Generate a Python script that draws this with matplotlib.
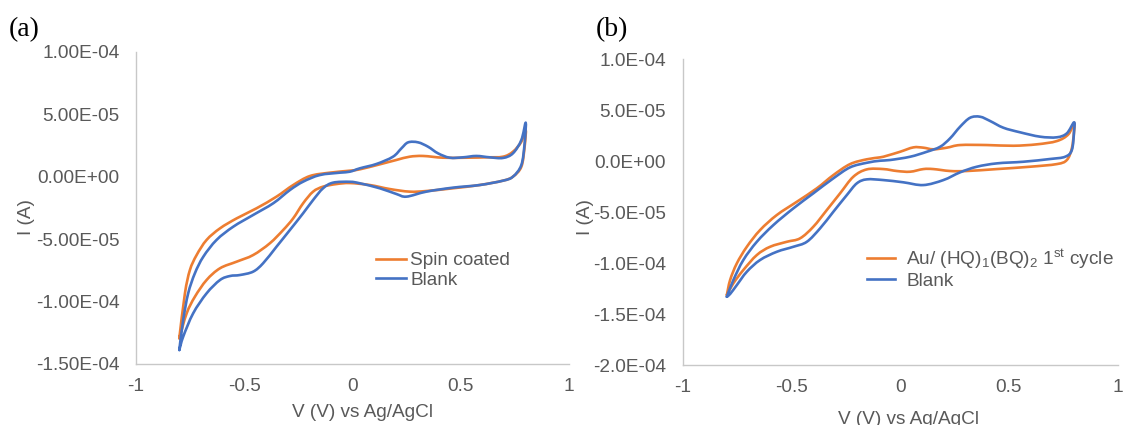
import numpy as np
import matplotlib
matplotlib.use("Agg")
import matplotlib.pyplot as plt
from matplotlib.path import Path
from matplotlib.patches import PathPatch
from matplotlib.lines import Line2D
from matplotlib.ticker import FuncFormatter, MultipleLocator

plt.rcParams['font.family'] = ['Liberation Sans', 'DejaVu Sans']
plt.rcParams['mathtext.fontset'] = 'custom'
plt.rcParams['mathtext.rm'] = 'Liberation Sans'
plt.rcParams['mathtext.it'] = 'Liberation Sans'

# ---- panel (a): potential (V) and current (uA), loop starts at -0.8 V ----
a_spin_v = [-0.800, -0.774, -0.751, -0.720, -0.674, -0.612, -0.535, -0.443, -0.351, -0.274,
            -0.197, -0.105, -0.012, 0.034, 0.126, 0.203, 0.264, 0.326, 0.418, 0.526,
            0.618, 0.695, 0.741, 0.780, 0.800,
            0.795, 0.780, 0.741, 0.695, 0.587, 0.464, 0.341, 0.264, 0.172, 0.080,
            -0.012, -0.074, -0.136, -0.182, -0.228, -0.274, -0.320, -0.382, -0.459, -0.535,
            -0.612, -0.674, -0.728, -0.766, -0.800]
a_spin_i = [-129.4, -93.4, -74.7, -62.7, -50.6, -41.3, -33.3, -25.2, -15.9, -6.6,
            0.6, 3.3, 4.9, 6.0, 10.0, 13.5, 16.1, 16.7, 15.3, 15.3,
            15.6, 16.1, 20.1, 28.1, 37.5,
            24.1, 8.1, 0.1, -3.1, -6.6, -9.2, -11.4, -11.9, -9.8, -6.6,
            -5.0, -5.8, -7.9, -11.9, -21.2, -33.3, -42.6, -53.3, -62.7, -68.0,
            -73.3, -82.7, -96.1, -109.4, -129.4]

a_blank_v = [-0.800, -0.782, -0.759, -0.728, -0.689, -0.628, -0.551, -0.459, -0.366, -0.289,
             -0.228, -0.151, -0.059, -0.012, 0.034, 0.111, 0.187, 0.226, 0.257, 0.303,
             0.349, 0.395, 0.449, 0.510, 0.572, 0.634, 0.695, 0.741, 0.780, 0.800,
             0.795, 0.780, 0.741, 0.695, 0.587, 0.464, 0.341, 0.249, 0.203, 0.126,
             0.034, -0.012, -0.090, -0.136, -0.182, -0.228, -0.289, -0.351, -0.413, -0.459,
             -0.520, -0.566, -0.612, -0.674, -0.736, -0.782, -0.800]
a_blank_i = [-138.8, -114.7, -93.4, -77.3, -64.0, -50.6, -40.0, -30.6, -21.2, -10.6,
             -3.9, 1.4, 3.3, 4.1, 6.8, 10.3, 16.1, 22.8, 27.6, 27.6,
             24.1, 18.8, 15.3, 15.6, 16.7, 15.6, 15.1, 18.8, 29.5, 43.4,
             26.8, 9.5, 0.1, -3.1, -6.6, -8.7, -11.9, -15.9, -13.8, -9.2,
             -5.2, -4.0, -4.7, -9.2, -18.6, -29.2, -42.6, -56.0, -69.3, -76.0,
             -78.7, -79.5, -82.7, -93.4, -109.4, -128.1, -138.8]

# ---- panel (b) ----
b_film_v = [-0.797, -0.782, -0.751, -0.705, -0.644, -0.567, -0.475, -0.383, -0.307, -0.230,
            -0.153, -0.092, -0.061, 0.000, 0.061, 0.107, 0.153, 0.215, 0.276, 0.399,
            0.521, 0.629, 0.721, 0.774, 0.800,
            0.800, 0.790, 0.767, 0.721, 0.598, 0.445, 0.307, 0.230, 0.153, 0.107,
            0.046, -0.015, -0.077, -0.153, -0.215, -0.276, -0.337, -0.399, -0.460, -0.521,
            -0.598, -0.659, -0.721, -0.767, -0.797]
b_film_i = [-131.3, -116.6, -100.2, -83.9, -67.5, -52.7, -39.7, -26.5, -13.5, -2.7,
            2.0, 3.9, 5.5, 9.4, 13.7, 13.4, 11.8, 13.4, 16.0, 16.0,
            15.3, 16.7, 19.9, 26.5, 37.3,
            29.1, 12.8, 1.3, -2.7, -5.3, -7.6, -9.5, -9.5, -7.6, -7.6,
            -10.2, -9.5, -7.6, -7.9, -15.1, -31.4, -47.8, -64.2, -75.6, -79.0,
            -83.9, -92.0, -106.7, -119.8, -131.3]

b_blank_v = [-0.797, -0.767, -0.721, -0.659, -0.583, -0.491, -0.399, -0.307, -0.230, -0.153,
             -0.092, -0.046, 0.046, 0.123, 0.184, 0.230, 0.276, 0.322, 0.368, 0.414,
             0.475, 0.552, 0.644, 0.721, 0.767, 0.800,
             0.800, 0.790, 0.759, 0.690, 0.567, 0.445, 0.353, 0.276, 0.199, 0.107,
             0.015, -0.077, -0.153, -0.199, -0.245, -0.307, -0.368, -0.429, -0.491, -0.567,
             -0.644, -0.705, -0.751, -0.782, -0.797]
b_blank_i = [-133.0, -116.6, -96.9, -79.0, -62.6, -46.2, -31.4, -16.7, -5.9, -1.4,
             0.6, 1.3, 4.5, 9.4, 14.3, 22.6, 34.0, 42.8, 43.8, 39.6,
             33.0, 28.5, 24.2, 23.6, 27.5, 38.3,
             29.1, 11.1, 4.5, 2.3, -0.4, -2.0, -5.3, -10.8, -18.4, -23.3,
             -20.6, -18.4, -17.7, -21.6, -33.1, -49.5, -65.8, -79.0, -83.9, -88.8,
             -96.9, -108.4, -121.5, -130.3, -133.0]

ORANGE = '#ED7D31'
BLUE = '#4472C4'
GREY_TXT = '#595959'
GREY_AX = '#C8C8C8'
FS = 13.7
LW = 1.9

fig = plt.figure(figsize=(11.24, 4.25), dpi=100)
ax_a = fig.add_axes([136 / 1124, 1 - 364 / 425, 433 / 1124, 312 / 425])
ax_b = fig.add_axes([682.7 / 1124, 1 - 365 / 425, 434.8 / 1124, 305.5 / 425])


def smooth_line(ax, v, i_ua, color):
    # draw like Excel's "smoothed line": Catmull-Rom segments as cubic Beziers
    p = np.column_stack([v, np.array(i_ua) * 1e-6])
    verts = [p[0]]
    codes = [Path.MOVETO]
    n = len(p)
    for k in range(n - 1):
        p0 = p[max(k - 1, 0)]
        p1, p2 = p[k], p[k + 1]
        p3 = p[min(k + 2, n - 1)]
        verts += [p1 + (p2 - p0) / 6.0, p2 - (p3 - p1) / 6.0, p2]
        codes += [Path.CURVE4] * 3
    ax.add_patch(PathPatch(Path(verts, codes), fill=False, edgecolor=color,
                           lw=LW, joinstyle='round', capstyle='round'))


def style_axis(ax, ylim, yfmt):
    ax.set_xlim(-1, 1)
    ax.set_ylim(*ylim)
    ax.xaxis.set_major_locator(MultipleLocator(0.5))
    ax.yaxis.set_major_locator(MultipleLocator(5e-5))
    ax.xaxis.set_major_formatter(FuncFormatter(lambda v, p: '{:g}'.format(round(v, 2))))
    ax.yaxis.set_major_formatter(FuncFormatter(lambda v, p: yfmt.format(v)))
    for s in ['top', 'right']:
        ax.spines[s].set_visible(False)
    for s in ['left', 'bottom']:
        ax.spines[s].set_color(GREY_AX)
        ax.spines[s].set_linewidth(1.0)
    ax.tick_params(length=0, labelsize=FS, colors=GREY_TXT)
    ax.tick_params(axis='y', pad=12)
    ax.tick_params(axis='x', pad=10)
    ax.set_xlabel('V (V) vs Ag/AgCl', fontsize=FS, color=GREY_TXT)
    ax.set_ylabel('I (A)', fontsize=FS, color=GREY_TXT)


def legend(ax, labels, x0, y0, hl, pad):
    handles = [Line2D([], [], color=ORANGE, lw=LW), Line2D([], [], color=BLUE, lw=LW)]
    ax.legend(handles, labels, loc='upper left', bbox_to_anchor=(x0 / 1124, 1 - y0 / 425),
              bbox_transform=fig.transFigure, frameon=False, fontsize=FS,
              handlelength=hl, handletextpad=pad, labelspacing=0.1,
              borderpad=0, borderaxespad=0, labelcolor=GREY_TXT)


# panel (a)
smooth_line(ax_a, a_spin_v, a_spin_i, ORANGE)
smooth_line(ax_a, a_blank_v, a_blank_i, BLUE)
style_axis(ax_a, (-1.5e-4, 1.0e-4), '{:.2E}')
ax_a.xaxis.set_label_coords(0.523, -0.128)
ax_a.yaxis.set_label_coords(-0.234, 0.47)
legend(ax_a, ['Spin coated', 'Blank'], 376, 252, 1.6, 0.2)

# panel (b)
smooth_line(ax_b, b_film_v, b_film_i, ORANGE)
smooth_line(ax_b, b_blank_v, b_blank_i, BLUE)
style_axis(ax_b, (-2.0e-4, 1.0e-4), '{:.1E}')
ax_b.xaxis.set_label_coords(0.52, -0.15)
ax_b.yaxis.set_label_coords(-0.205, 0.484)
legend(ax_b, [r'Au/ (HQ)$_1$(BQ)$_2$ 1$^{\mathrm{st}}$ cycle', 'Blank'], 867, 247, 1.45, 0.6)

fig.text(9 / 1124, 1 - 30 / 425, '(a)', fontsize=20, family='Liberation Serif',
         va='center', ha='left')
fig.text(596 / 1124, 1 - 30 / 425, '(b)', fontsize=20, family='Liberation Serif',
         va='center', ha='left')

fig.savefig('out.png', dpi=100)
